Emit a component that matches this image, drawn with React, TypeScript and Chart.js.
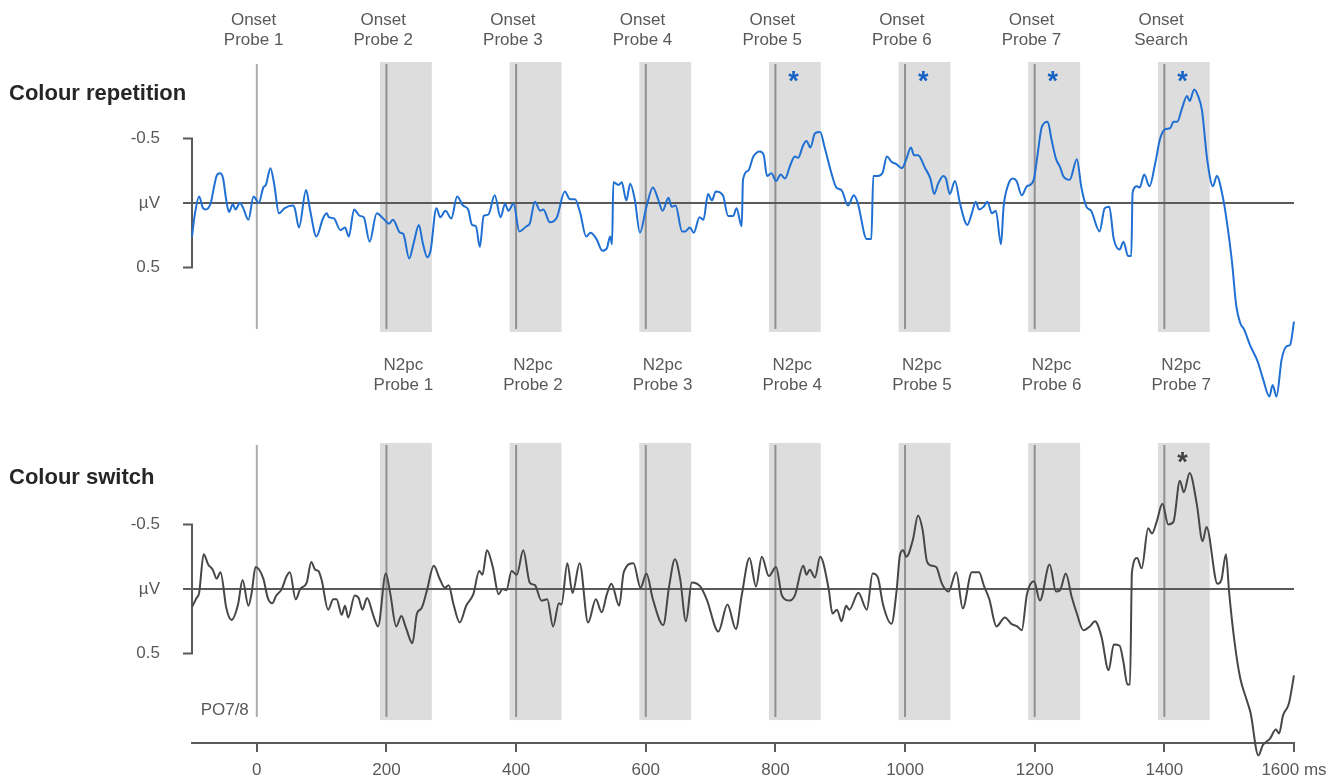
import React, { useEffect, useRef } from "react";
import { Chart, registerables } from "chart.js";

Chart.register(...registerables);

// ---------- data ----------
const X_MIN = -100;
const X_MAX = 1600;
const X_TICKS = [0, 200, 400, 600, 800, 1000, 1200, 1400, 1600];
const X_UNIT = "ms";

const Y_TICKS = [-0.5, 0, 0.5];
const Y_TICK_LABELS = ["-0.5", "µV", "0.5"];

const ONSET_TIMES = [0, 200, 400, 600, 800, 1000, 1200, 1400];
const ONSET_LABELS = [
  ["Onset", "Probe 1"],
  ["Onset", "Probe 2"],
  ["Onset", "Probe 3"],
  ["Onset", "Probe 4"],
  ["Onset", "Probe 5"],
  ["Onset", "Probe 6"],
  ["Onset", "Probe 7"],
  ["Onset", "Search"],
];
const N2PC_ONSETS = [200, 400, 600, 800, 1000, 1200, 1400];
const N2PC_LABELS = [
  ["N2pc", "Probe 1"],
  ["N2pc", "Probe 2"],
  ["N2pc", "Probe 3"],
  ["N2pc", "Probe 4"],
  ["N2pc", "Probe 5"],
  ["N2pc", "Probe 6"],
  ["N2pc", "Probe 7"],
];
const N2PC_WINDOW_START = -10;
const N2PC_WINDOW_END = 70;
const SIGNIFICANT_REPETITION = [800, 1000, 1200, 1400];
const SIGNIFICANT_SWITCH = [1400];

const PANEL_TITLES = ["Colour repetition", "Colour switch"];
const ELECTRODE_LABEL = "PO7/8";

// [time ms, amplitude µV]
const colourRepetition: [number, number][] = [
  [-100, 0.26], [-96, 0.1], [-89, -0.05], [-83, 0.04], [-79, 0.05], [-71, 0.0],
  [-67, -0.1], [-62, -0.21], [-57, -0.23], [-52, -0.19], [-48, -0.05], [-43, 0.07],
  [-37, 0.01], [-33, 0.05], [-26, 0.0], [-21, 0.04], [-13, 0.13], [-5, -0.05],
  [3, 0.0], [10, -0.12], [14, -0.14], [21, -0.27], [27, -0.14], [34, 0.08],
  [43, 0.04], [56, 0.02], [59, 0.05], [65, 0.19], [76, -0.1], [82, 0.05],
  [92, 0.26], [102, 0.12], [108, 0.08], [111, 0.11], [119, 0.12], [129, 0.21],
  [136, 0.19], [142, 0.26], [150, 0.05], [159, 0.1], [165, 0.11], [174, 0.3],
  [185, 0.08], [195, 0.12], [204, 0.16], [210, 0.13], [221, 0.23], [226, 0.24],
  [235, 0.43], [242, 0.31], [250, 0.17], [256, 0.31], [263, 0.42], [268, 0.37],
  [277, 0.04], [283, 0.11], [291, 0.06], [300, 0.12], [309, -0.05], [318, 0.02],
  [326, 0.05], [332, 0.17], [338, 0.18], [344, 0.34], [350, 0.1], [357, 0.09],
  [367, -0.06], [376, 0.11], [383, 0.005], [388, 0.06], [396, 0.005], [405, 0.22],
  [416, 0.18], [421, 0.16], [429, -0.01], [437, 0.06], [442, 0.05], [452, 0.15],
  [463, 0.11], [475, -0.09], [483, -0.03], [491, -0.03], [499, 0.08], [508, 0.26],
  [515, 0.23], [524, 0.28], [533, 0.37], [540, 0.35], [545, 0.26], [548, 0.32],
  [550, -0.16], [558, -0.14], [563, -0.16], [570, -0.02], [576, -0.15], [583, -0.03],
  [591, 0.23], [601, 0.03], [611, -0.12], [619, -0.03], [626, 0.06], [635, -0.04],
  [640, 0.03], [646, 0.02], [656, 0.22], [661, 0.22], [668, 0.19], [674, 0.23],
  [683, 0.11], [689, 0.13], [696, -0.07], [702, -0.02], [708, -0.09], [719, -0.06],
  [727, 0.1], [735, 0.1], [740, 0.04], [748, 0.18], [750, -0.18], [758, -0.25],
  [766, -0.36], [776, -0.4], [782, -0.37], [787, -0.21], [794, -0.23], [801, -0.17],
  [808, -0.22], [815, -0.19], [822, -0.28], [830, -0.36], [835, -0.35], [843, -0.45],
  [848, -0.48], [854, -0.43], [861, -0.54], [869, -0.55], [876, -0.43], [887, -0.22],
  [894, -0.12], [902, -0.1], [912, 0.02], [921, -0.06], [927, 0.0], [941, 0.28],
  [948, 0.28], [951, -0.21], [958, -0.21], [965, -0.23], [972, -0.36], [979, -0.32],
  [987, -0.3], [995, -0.27], [1002, -0.34], [1009, -0.43], [1014, -0.37], [1020, -0.37],
  [1031, -0.27], [1039, -0.19], [1045, -0.07], [1051, -0.15], [1059, -0.21], [1063, -0.19],
  [1069, -0.07], [1077, -0.17], [1085, 0.01], [1096, 0.17], [1103, 0.08], [1109, -0.01],
  [1114, 0.05], [1121, 0.03], [1127, -0.01], [1134, 0.08], [1140, 0.06], [1148, 0.32],
  [1152, 0.03], [1159, -0.14], [1166, -0.19], [1172, -0.17], [1180, -0.06], [1188, -0.13],
  [1193, -0.14], [1199, -0.19], [1204, -0.36], [1211, -0.59], [1220, -0.63], [1226, -0.49],
  [1233, -0.34], [1239, -0.28], [1244, -0.21], [1254, -0.18], [1265, -0.34], [1272, -0.12],
  [1280, 0.03], [1287, 0.06], [1300, 0.22], [1308, 0.04], [1315, 0.03], [1322, 0.28],
  [1331, 0.36], [1337, 0.3], [1344, 0.41], [1349, 0.41], [1351, -0.08], [1358, -0.13],
  [1362, -0.12], [1369, -0.22], [1377, -0.13], [1386, -0.31], [1393, -0.49], [1401, -0.57],
  [1409, -0.58], [1414, -0.63], [1420, -0.63], [1427, -0.73], [1435, -0.83], [1439, -0.79],
  [1446, -0.88], [1452, -0.83], [1458, -0.72], [1466, -0.34], [1475, -0.13], [1481, -0.21],
  [1490, -0.05], [1496, 0.13], [1504, 0.44], [1511, 0.8], [1517, 0.93], [1523, 0.98],
  [1532, 1.1], [1544, 1.23], [1552, 1.36], [1562, 1.5], [1567, 1.41], [1573, 1.5],
  [1581, 1.21], [1589, 1.11], [1594, 1.1], [1600, 0.92],
];

const colourSwitch: [number, number][] = [
  [-100, 0.14], [-93, 0.07], [-89, 0.03], [-82, -0.27], [-75, -0.19], [-68, -0.15],
  [-62, -0.08], [-56, -0.13], [-47, 0.15], [-39, 0.24], [-29, 0.12], [-22, -0.07],
  [-13, 0.13], [-8, 0.03], [-2, -0.17], [10, -0.08], [17, 0.07], [24, 0.11],
  [30, 0.05], [38, 0.005], [46, -0.1], [51, -0.13], [60, 0.08], [67, 0.0],
  [77, -0.05], [84, -0.21], [90, -0.15], [95, -0.14], [100, -0.07], [110, 0.16],
  [118, 0.08], [123, 0.08], [131, 0.2], [136, 0.13], [141, 0.22], [151, 0.05],
  [157, 0.07], [163, 0.16], [170, 0.07], [180, 0.21], [187, 0.29], [199, -0.12],
  [206, 0.04], [215, 0.29], [223, 0.21], [230, 0.3], [240, 0.42], [247, 0.19],
  [254, 0.15], [262, 0.02], [273, -0.18], [282, -0.08], [290, -0.01], [296, -0.03],
  [303, 0.11], [313, 0.26], [323, 0.13], [334, 0.04], [343, -0.14], [348, -0.11],
  [355, -0.3], [364, -0.17], [373, 0.04], [379, 0.0], [385, 0.01], [393, -0.14],
  [401, -0.11], [411, -0.3], [421, -0.05], [429, -0.03], [439, 0.09], [448, 0.08],
  [457, 0.29], [466, 0.11], [470, 0.12], [479, -0.2], [487, 0.03], [498, -0.2],
  [511, 0.26], [523, 0.08], [532, 0.18], [540, 0.04], [547, -0.04], [559, 0.13],
  [566, -0.13], [581, -0.2], [592, -0.01], [601, -0.12], [611, 0.08], [627, 0.28],
  [636, -0.02], [645, -0.23], [653, -0.08], [662, 0.25], [671, -0.05], [684, -0.02],
  [694, 0.08], [712, 0.33], [726, 0.12], [739, 0.31], [748, 0.05], [760, -0.24],
  [770, -0.02], [779, -0.25], [790, -0.1], [801, -0.17], [810, 0.05], [822, 0.09],
  [830, 0.05], [843, -0.18], [848, -0.11], [853, -0.15], [861, -0.09], [869, -0.25],
  [882, -0.005], [888, 0.19], [895, 0.16], [902, 0.25], [909, 0.13], [914, 0.16],
  [928, 0.03], [941, 0.16], [950, -0.12], [958, -0.09], [966, 0.12], [979, 0.27],
  [987, 0.01], [992, -0.26], [997, -0.3], [1002, -0.25], [1012, -0.38], [1020, -0.57],
  [1027, -0.46], [1034, -0.21], [1042, -0.18], [1048, -0.17], [1057, -0.04], [1067, 0.02],
  [1079, -0.13], [1089, 0.15], [1103, -0.13], [1114, -0.13], [1122, -0.02], [1130, 0.08],
  [1141, 0.29], [1154, 0.22], [1164, 0.27], [1173, 0.29], [1180, 0.32], [1188, 0.04],
  [1199, -0.06], [1208, 0.09], [1223, -0.19], [1233, 0.02], [1239, 0.01], [1248, -0.12],
  [1257, 0.06], [1265, 0.19], [1275, 0.32], [1285, 0.29], [1293, 0.25], [1303, 0.37],
  [1314, 0.63], [1322, 0.43], [1331, 0.44], [1337, 0.57], [1343, 0.74], [1347, 0.74],
  [1350, -0.13], [1358, -0.24], [1365, -0.16], [1375, -0.47], [1381, -0.43], [1388, -0.52],
  [1397, -0.66], [1406, -0.5], [1414, -0.52], [1424, -0.84], [1430, -0.75], [1439, -0.9],
  [1450, -0.66], [1459, -0.37], [1465, -0.48], [1482, -0.04], [1488, -0.07], [1495, -0.27],
  [1500, 0.03], [1508, 0.4], [1517, 0.69], [1527, 0.86], [1533, 0.96], [1545, 1.29],
  [1552, 1.21], [1563, 1.16], [1572, 1.09], [1577, 1.12], [1583, 0.98], [1592, 0.89],
  [1600, 0.67],
];

// ---------- layout / style ----------
const W = 1341;
const H = 778;
const AREA_TOP = 10;
const AREA_BOTTOM = 743;
const PX_PER_UV = 129;
const ZERO_TOP_PX = 203;
const ZERO_BOTTOM_PX = 589;
const FONT = "'Liberation Sans', Arial, sans-serif";
const TEXT_GREY = "#595959";
const AXIS_GREY = "#5a5a5a";
const BLUE = "#1f70d2";
const DARK = "#474747";

const yRange = (zeroPx: number) => ({
  min: -(zeroPx - AREA_TOP) / PX_PER_UV,
  max: (AREA_BOTTOM - zeroPx) / PX_PER_UV,
});

const PANELS = [
  { axis: "yTop", lo: -1.093, hi: 1.0, title: PANEL_TITLES[0], titleBase: 100, sig: SIGNIFICANT_REPETITION, sigColor: "#1763c4", sigBase: 90 },
  { axis: "yBot", lo: -1.132, hi: 1.016, title: PANEL_TITLES[1], titleBase: 484, sig: SIGNIFICANT_SWITCH, sigColor: "#404040", sigBase: 471 },
];

const annotations = {
  id: "erpAnnotations",
  beforeDatasetsDraw(chart: any) {
    const { ctx } = chart;
    const x = chart.scales.x;
    ctx.save();
    PANELS.forEach((p) => {
      const y = chart.scales[p.axis];
      const top = y.getPixelForValue(p.lo);
      const bot = y.getPixelForValue(p.hi);
      ctx.fillStyle = "#dddddd";
      N2PC_ONSETS.forEach((t) => {
        const a = x.getPixelForValue(t + N2PC_WINDOW_START);
        const b = x.getPixelForValue(t + N2PC_WINDOW_END);
        ctx.fillRect(a, top, b - a, bot - top);
      });
      ctx.lineWidth = 2;
      ONSET_TIMES.forEach((t) => {
        const px = x.getPixelForValue(t);
        ctx.strokeStyle = t === 0 ? "#acacac" : "#909090";
        ctx.beginPath();
        ctx.moveTo(px, top + 2);
        ctx.lineTo(px, bot - 3);
        ctx.stroke();
      });
      const x0 = x.getPixelForValue(X_MIN);
      const z = y.getPixelForValue(0);
      ctx.strokeStyle = AXIS_GREY;
      ctx.beginPath();
      ctx.moveTo(x0 - 9, z);
      ctx.lineTo(x.getPixelForValue(X_MAX), z);
      ctx.stroke();
      const ya = y.getPixelForValue(Y_TICKS[0]);
      const yb = y.getPixelForValue(Y_TICKS[Y_TICKS.length - 1]);
      ctx.beginPath();
      ctx.moveTo(x0 - 9, ya);
      ctx.lineTo(x0, ya);
      ctx.lineTo(x0, yb);
      ctx.lineTo(x0 - 9, yb);
      ctx.stroke();
      ctx.fillStyle = TEXT_GREY;
      ctx.font = `17px ${FONT}`;
      ctx.textAlign = "right";
      ctx.textBaseline = "middle";
      Y_TICKS.forEach((v, i) => ctx.fillText(Y_TICK_LABELS[i], x0 - 32, y.getPixelForValue(v)));
    });
    ctx.restore();
  },
  afterDatasetsDraw(chart: any) {
    const { ctx } = chart;
    const x = chart.scales.x;
    ctx.save();
    PANELS.forEach((p) => {
      ctx.fillStyle = "#262626";
      ctx.font = `bold 22px ${FONT}`;
      ctx.textAlign = "left";
      ctx.textBaseline = "alphabetic";
      ctx.fillText(p.title, 9, p.titleBase);
      ctx.fillStyle = p.sigColor;
      ctx.font = `bold 27px ${FONT}`;
      ctx.textAlign = "center";
      p.sig.forEach((t) => ctx.fillText("*", x.getPixelForValue(t + 28), p.sigBase));
    });
    ctx.fillStyle = TEXT_GREY;
    ctx.font = `17px ${FONT}`;
    ctx.textAlign = "center";
    ctx.textBaseline = "middle";
    ONSET_TIMES.forEach((t, i) => {
      const px = x.getPixelForValue(t - 5);
      ctx.fillText(ONSET_LABELS[i][0], px, 20);
      ctx.fillText(ONSET_LABELS[i][1], px, 40);
    });
    N2PC_ONSETS.forEach((t, i) => {
      const px = x.getPixelForValue(t + 26);
      ctx.fillText(N2PC_LABELS[i][0], px, 365);
      ctx.fillText(N2PC_LABELS[i][1], px, 385);
    });
    ctx.textAlign = "right";
    ctx.textBaseline = "alphabetic";
    ctx.fillText(ELECTRODE_LABEL, x.getPixelForValue(0) - 8, 715);
    ctx.restore();
  },
};

export default function App() {
  const ref = useRef<HTMLCanvasElement>(null);
  useEffect(() => {
    const top = yRange(ZERO_TOP_PX);
    const bottom = yRange(ZERO_BOTTOM_PX);
    const chart = new Chart(ref.current as HTMLCanvasElement, {
      type: "line",
      data: {
        datasets: [
          {
            label: PANEL_TITLES[0],
            data: colourRepetition.map(([t, v]) => ({ x: t, y: v })),
            yAxisID: "yTop",
            borderColor: BLUE,
            borderWidth: 2,
            pointRadius: 0,
            cubicInterpolationMode: "monotone",
            fill: false,
            clip: false,
          },
          {
            label: PANEL_TITLES[1],
            data: colourSwitch.map(([t, v]) => ({ x: t, y: v })),
            yAxisID: "yBot",
            borderColor: DARK,
            borderWidth: 2,
            pointRadius: 0,
            cubicInterpolationMode: "monotone",
            fill: false,
            clip: false,
          },
        ],
      } as any,
      options: {
        responsive: false,
        animation: false,
        events: [],
        layout: { padding: { left: 192, right: 47, top: AREA_TOP, bottom: -11 } },
        plugins: { legend: { display: false }, tooltip: { enabled: false } },
        scales: {
          x: {
            type: "linear",
            min: X_MIN,
            max: X_MAX,
            afterBuildTicks: (s: any) => {
              s.ticks = X_TICKS.map((v) => ({ value: v }));
            },
            ticks: {
              autoSkip: false,
              maxRotation: 0,
              padding: 10,
              color: TEXT_GREY,
              font: { family: FONT, size: 17, lineHeight: 1 },
              callback: (v: any) => (v === X_MAX ? `${v} ${X_UNIT}` : `${v}`),
            },
            grid: { drawOnChartArea: false, drawTicks: true, tickLength: 9, color: AXIS_GREY, lineWidth: 2 },
            border: { display: true, color: AXIS_GREY, width: 2 },
          },
          yTop: { type: "linear", display: false, reverse: true, min: top.min, max: top.max },
          yBot: { type: "linear", display: false, reverse: true, min: bottom.min, max: bottom.max },
        },
      } as any,
      plugins: [annotations],
    });
    return () => chart.destroy();
  }, []);
  return (
    <div style={{ position: "absolute", left: 0, top: 0, width: W, height: H, background: "#ffffff" }}>
      <canvas ref={ref} width={W} height={H} style={{ display: "block" }} />
    </div>
  );
}
